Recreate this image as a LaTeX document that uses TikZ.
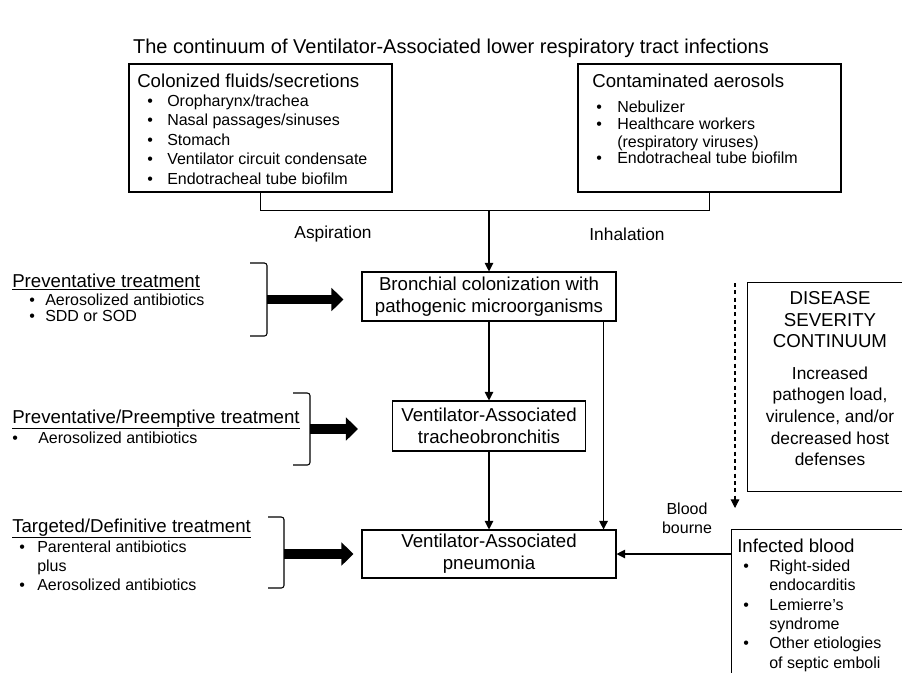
\documentclass[tikz,border=0pt]{standalone}
\usepackage{fontspec}
\setmainfont{Liberation Sans}
\usetikzlibrary{arrows.meta,fit}

\newcommand{\hd}{\fontsize{14}{16.5}\selectfont}
\newcommand{\itm}[3]{\hspace*{#1}\makebox[\dimexpr#2-#1\relax][l]{\textbullet}#3}

\tikzset{
  box/.style={draw, line width=0.8pt, inner sep=0pt},
  openbox/.style={inner sep=0pt},
  main/.style={draw, line width=0.8pt, align=center, inner xsep=4pt, inner ysep=1pt, font=\hd},
  txt/.style={anchor=north west, align=left, inner sep=0pt},
  lbl/.style={inner sep=0pt, font=\fontsize{13}{15}\selectfont},
  line/.style={line width=0.8pt},
  arr/.style={line width=0.8pt, -{Triangle[length=6.5pt,width=6.5pt]}},
  bigarr/.style={line width=7pt, -{Triangle[length=9pt,width=17pt]}},
  brack/.style={line width=0.8pt, rounded corners=2pt},
}

\begin{document}
\begin{tikzpicture}[x=0.75pt, y=-0.75pt]
    \useasboundingbox (0,0) rectangle (902,672);
    \clip (0,0) rectangle (902,672);

    % title
    \node[font=\fontsize{15}{18}\selectfont] (title) at (451,48) {The continuum of Ventilator-Associated lower respiratory tract infections};

    % sources
    \node[box, fit={(129,64) (392,192)}] (col) {};
    \node[txt, font=\fontsize{12}{14.6}\selectfont] (coltxt) at (137,73.2) {{\hd Colonized fluids/secretions}\\
        \itm{7.5pt}{22.5pt}{Oropharynx/trachea}\\
        \itm{7.5pt}{22.5pt}{Nasal passages/sinuses}\\
        \itm{7.5pt}{22.5pt}{Stomach}\\
        \itm{7.5pt}{22.5pt}{Ventilator circuit condensate}\\
        \itm{7.5pt}{22.5pt}{Endotracheal tube biofilm}};

    \node[box, fit={(578,64) (841,192)}] (cont) {};
    \node[txt, font=\fontsize{12}{12.75}\selectfont] (conttxt) at (592,73.2) {{\hd Contaminated aerosols}\\[6.75pt]
        \itm{3pt}{18.75pt}{Nebulizer}\\
        \itm{3pt}{18.75pt}{Healthcare workers}\\
        \hspace*{18.75pt}(respiratory viruses)\\
        \itm{3pt}{18.75pt}{Endotracheal tube biofilm}};

    \coordinate (join) at (489,210);
    \draw[line] (col.south) -- ++(0,18) -| (cont.south);
    \node[lbl] (asp) at (333,234) {Aspiration};
    \node[lbl] (inh) at (627,234) {Inhalation};

    % continuum
    \node[main, minimum width=190.5pt, minimum height=36.75pt] (bron) at (489,296.5) {Bronchial colonization with\\pathogenic microorganisms};
    \node[main, minimum width=144.75pt, minimum height=37.5pt] (vat) at (489,426) {Ventilator-Associated\\tracheobronchitis};
    \node[main, minimum width=190.5pt, minimum height=36pt] (vap) at (489,554) {Ventilator-Associated\\pneumonia};

    \draw[arr] (join) -- (join |- bron.north);
    \draw[arr] (bron.south) -- (vat.north);
    \draw[arr] (vat.south) -- (vap.north);
    \draw[arr] ([xshift=-9.75pt]bron.south east) -- ([xshift=-9.75pt]vap.north east);

    % treatments
    \node[txt, font=\fontsize{12}{11.6}\selectfont] (prev) at (12,273.2) {{\hd\underline{Preventative treatment}}\\[2.6pt]
        \itm{12.75pt}{24.75pt}{Aerosolized antibiotics}\\
        \itm{12.75pt}{24.75pt}{SDD or SOD}};
    \node[txt, font=\fontsize{12}{15}\selectfont] (pree) at (12,409.2) {{\hd\underline{Preventative/Preemptive treatment}}\\
        \itm{0pt}{19.5pt}{Aerosolized antibiotics}};
    \node[txt, font=\fontsize{12}{14.3}\selectfont] (targ) at (12,518.2) {{\hd\underline{Targeted/Definitive treatment}}\\[1pt]
        \itm{5.25pt}{18.75pt}{Parenteral antibiotics}\\
        \hspace*{18.75pt}plus\\
        \itm{5.25pt}{18.75pt}{Aerosolized antibiotics}};

    \draw[brack] (250,263) -- (267,263) -- (267,336) -- (250,336);
    \draw[brack] (293,393) -- (310,393) -- (310,465) -- (293,465);
    \draw[brack] (268,517) -- (284,517) -- (284,588) -- (268,588);
    \coordinate (b1) at (267,299.5);
    \coordinate (b2) at (310,429);
    \coordinate (b3) at (284,554);
    \draw[bigarr, shorten >=13.5pt] (b1) -- (b1 -| bron.west);
    \draw[bigarr, shorten >=25.5pt] (b2) -- (b2 -| vat.west);
    \draw[bigarr, shorten >=6pt] (b3) -- (b3 -| vap.west);

    % severity (runs off the right edge)
    \node[openbox, fit={(748,283) (920,491)}] (sev) {};
    \draw[line] (sev.north east) -- (sev.north west) -- (sev.south west) -- (sev.south east);
    \node[anchor=north, align=center, inner sep=0pt, font=\fontsize{13}{16.3}\selectfont] (sevtxt) at (830,291.2) {{\hd DISEASE}\\{\hd SEVERITY}\\{\hd CONTINUUM}\\[7pt]
        Increased\\pathogen load,\\virulence, and/or\\decreased host\\defenses};
    \coordinate (sevtop) at (735,283);
    \coordinate (sevbot) at (735,508);
    \draw[arr, dash pattern=on 3pt off 2.5pt] (sevtop) -- (sevbot);

    % blood (runs off the page)
    \node[openbox, fit={(732,530) (920,690)}] (blood) {};
    \draw[line] (blood.north east) -- (blood.north west) -- (blood.south west);
    \node[txt, font=\fontsize{12}{14.5}\selectfont] (bloodtxt) at (737,538.2) {{\hd Infected blood}\\
        \itm{4.5pt}{24pt}{Right-sided}\\
        \hspace*{24pt}endocarditis\\
        \itm{4.5pt}{24pt}{Lemierre's}\\
        \hspace*{24pt}syndrome\\
        \itm{4.5pt}{24pt}{Other etiologies}\\
        \hspace*{24pt}of septic emboli};
    \node[anchor=north, align=center, inner sep=0pt, font=\fontsize{12}{14.25}\selectfont] (bb) at (687,502.2) {Blood\\bourne};
    \draw[arr] (blood.west |- vap.east) -- (vap.east);
\end{tikzpicture}
\end{document}
